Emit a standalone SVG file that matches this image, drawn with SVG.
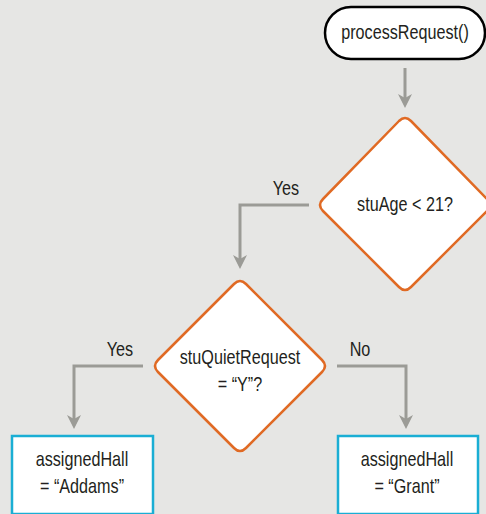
<svg xmlns="http://www.w3.org/2000/svg" width="486" height="514" viewBox="0 0 486 514">
<defs>
<style>
.t{font-family:"Liberation Sans",Arial,sans-serif;font-size:19.5px;fill:#231f20;text-anchor:middle}
.dec{fill:#fff;stroke:#e06a24;stroke-width:2.5;stroke-linejoin:round}
.box{fill:#fff;stroke:#1aaed4;stroke-width:2.5}
.term{fill:#fff;stroke:#000;stroke-width:2.5}
.c{fill:none;stroke:#9b9b96;stroke-width:3}
.ah{fill:#9b9b96}
</style>
</defs>
<rect width="486" height="514" fill="#e6e6e4"/>
<g id="connectors">
<path class="c" d="M405,68 V99"/>
<path class="ah" d="M398,94 L405,108 L412,94 L405,98 z"/>
<path class="c" d="M309,205 H240 V260"/>
<path class="ah" d="M233,255 L240,269 L247,255 L240,259 z"/>
<path class="c" d="M143,366 H74 V420"/>
<path class="ah" d="M67,415 L74,429 L81,415 L74,419 z"/>
<path class="c" d="M337,366 H406 V420"/>
<path class="ah" d="M399,415 L406,429 L413,415 L406,419 z"/>
<text class="t" transform="translate(286,195) scale(0.83,1)">Yes</text>
<text class="t" transform="translate(120,356) scale(0.83,1)">Yes</text>
<text class="t" transform="translate(360,356) scale(0.83,1)">No</text>
</g>
<g id="start">
<rect class="term" x="325" y="7" width="160" height="52" rx="26"/>
<text class="t" transform="translate(405,39) scale(0.83,1)">processRequest()</text>
</g>
<g id="decision-age">
<path class="dec" d="M399,121 Q405,115 411,121 L487,199 Q493,205 487,211 L411,287 Q405,293 399,287 L323,211 Q317,205 323,199 Z"/>
<text class="t" transform="translate(405,211) scale(0.83,1)">stuAge &lt; 21?</text>
</g>
<g id="decision-quiet">
<path class="dec" d="M234,284 Q240,278 246,284 L322,360 Q328,366 322,372 L246,448 Q240,454 234,448 L158,372 Q152,366 158,360 Z"/>
<text class="t" transform="translate(240,364) scale(0.83,1)">stuQuietRequest</text>
<text class="t" transform="translate(240,391) scale(0.83,1)">= “Y”?</text>
</g>
<g id="hall-addams">
<rect class="box" x="12" y="436" width="141" height="78"/>
<text class="t" transform="translate(82,466) scale(0.83,1)">assignedHall</text>
<text class="t" transform="translate(82,493) scale(0.83,1)">= “Addams”</text>
</g>
<g id="hall-grant">
<rect class="box" x="338" y="436" width="140" height="78"/>
<text class="t" transform="translate(407,466) scale(0.83,1)">assignedHall</text>
<text class="t" transform="translate(407,493) scale(0.83,1)">= “Grant”</text>
</g>
</svg>
